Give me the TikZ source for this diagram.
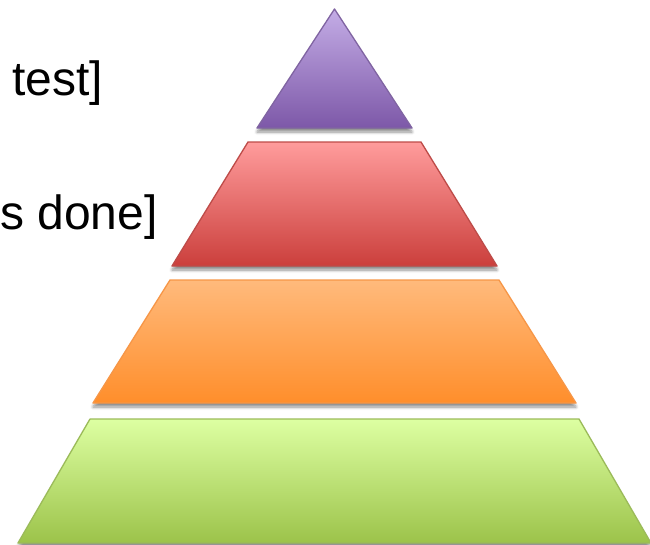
\documentclass[tikz,border=0pt]{standalone}
\usepackage{fontspec}
\setmainfont{Liberation Sans}
\usetikzlibrary{shadows.blur}
\definecolor{purpTop}{HTML}{C4ADE6}
\definecolor{purpBot}{HTML}{7D58A8}
\definecolor{purpLine}{HTML}{8064A2}
\definecolor{redTop}{HTML}{FF9C9C}
\definecolor{redBot}{HTML}{CB3F3C}
\definecolor{redLine}{HTML}{BE4B48}
\definecolor{orTop}{HTML}{FFBA7C}
\definecolor{orBot}{HTML}{FF8E2B}
\definecolor{orLine}{HTML}{F79646}
\definecolor{grTop}{HTML}{DDFFA2}
\definecolor{grBot}{HTML}{9CC34A}
\definecolor{grLine}{HTML}{9BBB59}
\tikzset{
  layer/.style={line width=1.3pt, line join=round,
    blur shadow={shadow xshift=0pt, shadow yshift=-4pt, shadow blur radius=3pt, shadow blur steps=6, shadow opacity=45}},
  label/.style={inner sep=0pt, font=\fontsize{48}{58}\selectfont, text=black}
}
\begin{document}
\begin{tikzpicture}[x=1pt,y=-1pt]
\useasboundingbox (0,0) rectangle (650,544);
\begin{scope}
\clip (0,0) rectangle (650,544);
% purple top triangle
\path[layer, draw=purpLine, top color=purpTop, bottom color=purpBot]
  (334.5,9) -- (412,128) -- (257,128) -- cycle;
% red layer
\path[layer, draw=redLine, top color=redTop, bottom color=redBot]
  (248,142) -- (421,142) -- (497,266) -- (172,266) -- cycle;
% orange layer
\path[layer, draw=orLine, top color=orTop, bottom color=orBot]
  (170,280) -- (499,280) -- (576,403) -- (93,403) -- cycle;
% green layer
\path[layer, draw=grLine, top color=grTop, bottom color=grBot]
  (90,419) -- (579,419) -- (651,543) -- (18,543) -- cycle;
\node[label, anchor=base west] (t1) at (12,95) {test]};
\node[label, anchor=base west] (t2) at (0,229) {s done]};
\end{scope}
\end{tikzpicture}
\end{document}
